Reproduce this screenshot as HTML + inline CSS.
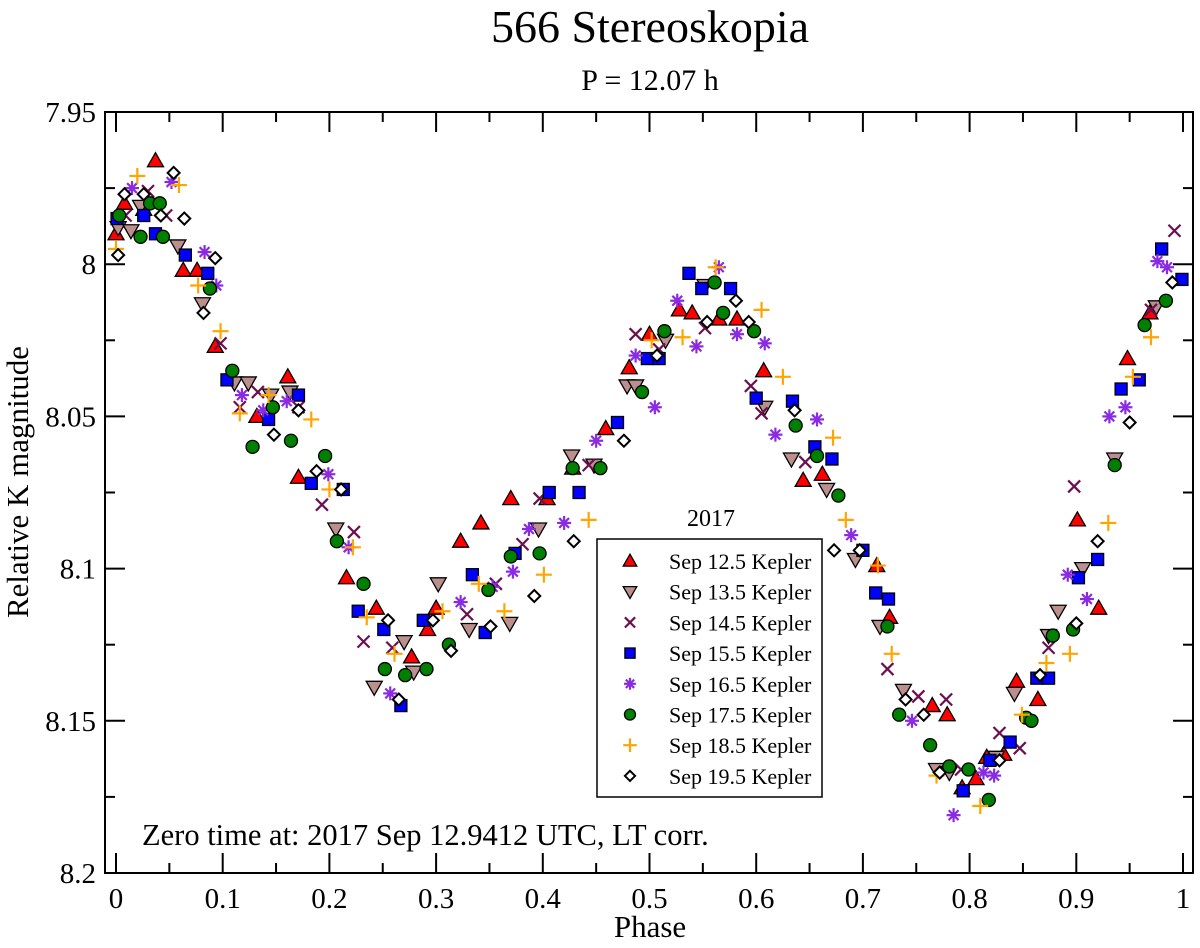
<!DOCTYPE html>
<html><head><meta charset="utf-8"><style>
body{margin:0;background:#fff}
svg text{font-family:"Liberation Serif",serif;fill:#000}
</style></head><body>
<svg id="chart" width="1200" height="943" xmlns="http://www.w3.org/2000/svg">
<text x="650" y="42" font-size="46" text-anchor="middle">566 Stereoskopia</text>
<text x="650" y="90" font-size="30" text-anchor="middle">P = 12.07 h</text>
<text transform="translate(28,482) rotate(-90)" font-size="31" text-anchor="middle">Relative K magnitude</text>
<text x="650" y="937" font-size="31" text-anchor="middle">Phase</text>
<text x="142" y="845" font-size="30.5">Zero time at: 2017 Sep 12.9412 UTC, LT corr.</text>
<g id="axes"></g>
<g id="marks"></g>
<g id="legend"></g>
</svg>
<script>
const xTicks=[0,0.1,0.2,0.3,0.4,0.5,0.6,0.7,0.8,0.9,1];
const xTickLabels=["0","0.1","0.2","0.3","0.4","0.5","0.6","0.7","0.8","0.9","1"];
const yTicks=[7.95,8.0,8.05,8.1,8.15,8.2];
const yTickLabels=["7.95","8","8.05","8.1","8.15","8.2"];
const seriesNames=["Sep 12.5 Kepler","Sep 13.5 Kepler","Sep 14.5 Kepler","Sep 15.5 Kepler","Sep 16.5 Kepler","Sep 17.5 Kepler","Sep 18.5 Kepler","Sep 19.5 Kepler"];
const s1Phase=[0.0,0.008,0.037,0.026,0.063,0.076,0.093,0.132,0.161,0.171,0.216,0.244,0.277,0.292,0.300,0.323,0.342,0.370,0.404,0.428,0.459,0.481,0.500,0.528,0.540,0.565,0.582,0.607,0.644,0.662,0.713,0.725,0.765,0.779,0.793,0.806,0.816,0.832,0.844,0.864,0.901,0.921,0.948,0.969];
const s1Mag=[7.990,7.980,7.966,7.982,8.002,8.002,8.027,8.050,8.037,8.070,8.103,8.113,8.129,8.120,8.113,8.091,8.085,8.077,8.077,8.067,8.054,8.034,8.023,8.015,8.016,8.018,8.018,8.035,8.071,8.069,8.099,8.116,8.145,8.148,8.172,8.169,8.162,8.161,8.137,8.143,8.084,8.113,8.031,8.016];
const s2Phase=[0.002,0.014,0.023,0.058,0.081,0.111,0.124,0.145,0.163,0.206,0.242,0.270,0.279,0.302,0.331,0.369,0.396,0.427,0.448,0.479,0.487,0.515,0.552,0.608,0.633,0.666,0.693,0.716,0.738,0.769,0.781,0.825,0.842,0.874,0.883,0.906,0.936,0.975];
const s2Mag=[7.988,7.989,7.981,7.994,8.013,8.039,8.039,8.043,8.042,8.087,8.139,8.124,8.134,8.105,8.120,8.118,8.087,8.063,8.066,8.040,8.040,8.025,8.007,8.047,8.064,8.074,8.097,8.119,8.140,8.166,8.167,8.162,8.141,8.122,8.114,8.100,8.064,8.014];
const s3Phase=[0.009,0.030,0.047,0.098,0.116,0.133,0.171,0.193,0.223,0.232,0.259,0.329,0.356,0.381,0.397,0.443,0.487,0.509,0.552,0.595,0.605,0.646,0.723,0.752,0.778,0.792,0.828,0.847,0.874,0.898,0.970,0.992];
const s3Mag=[7.984,7.976,7.984,8.026,8.047,8.042,8.047,8.079,8.088,8.124,8.126,8.115,8.105,8.092,8.077,8.066,8.023,8.028,8.021,8.040,8.049,8.065,8.133,8.142,8.143,8.166,8.154,8.159,8.126,8.073,8.015,7.989];
const s4Phase=[0.001,0.026,0.037,0.065,0.086,0.104,0.143,0.171,0.183,0.213,0.227,0.251,0.267,0.288,0.346,0.334,0.374,0.406,0.434,0.470,0.498,0.509,0.537,0.549,0.576,0.600,0.634,0.655,0.671,0.700,0.712,0.724,0.794,0.819,0.838,0.863,0.874,0.902,0.920,0.942,0.959,0.980,0.999];
const s4Mag=[7.985,7.984,7.990,7.997,8.003,8.038,8.051,8.043,8.072,8.074,8.114,8.120,8.145,8.117,8.121,8.102,8.095,8.075,8.075,8.052,8.031,8.031,8.003,8.008,8.008,8.044,8.045,8.060,8.064,8.094,8.108,8.110,8.173,8.163,8.157,8.136,8.136,8.103,8.097,8.041,8.038,7.995,8.005];
const s5Phase=[0.015,0.052,0.083,0.094,0.118,0.138,0.160,0.199,0.218,0.257,0.323,0.353,0.372,0.387,0.420,0.450,0.487,0.505,0.526,0.544,0.565,0.582,0.608,0.618,0.657,0.689,0.746,0.785,0.813,0.823,0.892,0.910,0.931,0.946,0.976,0.985];
const s5Mag=[7.975,7.973,7.996,8.007,8.043,8.048,8.045,8.069,8.093,8.141,8.111,8.106,8.101,8.087,8.085,8.058,8.030,8.047,8.012,8.027,8.001,8.023,8.026,8.056,8.051,8.089,8.150,8.181,8.167,8.168,8.102,8.110,8.050,8.047,7.999,8.001];
const s6Phase=[0.003,0.032,0.041,0.023,0.044,0.088,0.109,0.128,0.147,0.164,0.196,0.207,0.232,0.252,0.271,0.291,0.312,0.349,0.370,0.397,0.428,0.454,0.493,0.514,0.561,0.569,0.598,0.637,0.657,0.677,0.723,0.734,0.763,0.781,0.799,0.818,0.853,0.858,0.878,0.897,0.936,0.964,0.984];
const s6Mag=[7.984,7.980,7.980,7.991,7.991,8.008,8.035,8.060,8.047,8.058,8.063,8.091,8.105,8.133,8.135,8.133,8.125,8.107,8.096,8.095,8.067,8.067,8.042,8.022,8.006,8.016,8.022,8.053,8.063,8.076,8.119,8.148,8.158,8.165,8.166,8.176,8.149,8.150,8.122,8.120,8.066,8.020,8.012];
const s7Phase=[0.0,0.020,0.059,0.077,0.098,0.116,0.143,0.183,0.200,0.222,0.235,0.261,0.306,0.340,0.364,0.401,0.443,0.502,0.531,0.562,0.605,0.625,0.672,0.684,0.714,0.727,0.769,0.810,0.849,0.872,0.894,0.930,0.953,0.970];
const s7Mag=[7.995,7.971,7.974,8.007,8.022,8.049,8.043,8.051,8.074,8.093,8.116,8.128,8.114,8.105,8.114,8.102,8.084,8.025,8.024,8.001,8.015,8.037,8.057,8.084,8.099,8.128,8.168,8.178,8.148,8.131,8.128,8.085,8.037,8.024];
const s8Phase=[0.002,0.008,0.026,0.042,0.054,0.064,0.093,0.082,0.148,0.171,0.188,0.211,0.255,0.265,0.297,0.314,0.351,0.392,0.429,0.476,0.507,0.554,0.581,0.593,0.636,0.673,0.697,0.740,0.757,0.772,0.828,0.866,0.900,0.920,0.950,0.990];
const s8Mag=[7.997,7.977,7.977,7.984,7.970,7.985,7.998,8.016,8.056,8.048,8.068,8.074,8.117,8.143,8.117,8.127,8.119,8.109,8.091,8.058,8.030,8.019,8.012,8.019,8.048,8.094,8.094,8.143,8.148,8.167,8.163,8.135,8.118,8.091,8.052,8.006];

const L=105,R=1193,T=112,B=873;
const x0=116,x1=1183;
function xs(p){return x0+(x1-x0)*p;}
function ys(m){return T+(B-T)*(m-7.95)/0.25;}
const NS="http://www.w3.org/2000/svg";
function mk(tag,attrs,parent){const e=document.createElementNS(NS,tag);for(const k in attrs)e.setAttribute(k,attrs[k]);parent.appendChild(e);return e;}
const axes=document.getElementById('axes');
const frame=mk('rect',{x:L,y:T,width:R-L,height:B-T,fill:'none',stroke:'#000','stroke-width':2},axes);


xTicks.forEach((v,i)=>{
  const x=xs(v);
  const t1=mk('line',{x1:x,x2:x,y1:B,y2:B-20,stroke:'#000','stroke-width':2},axes);
  
  
  const t2=mk('line',{x1:x,x2:x,y1:T,y2:T+20,stroke:'#000','stroke-width':2},axes);
  
  
  if(i<xTicks.length-1){const xm=xs(v+0.05);
    const m1=mk('line',{x1:xm,x2:xm,y1:B,y2:B-10,stroke:'#000','stroke-width':2},axes);
    
    
    const m2=mk('line',{x1:xm,x2:xm,y1:T,y2:T+10,stroke:'#000','stroke-width':2},axes);
    
    }
  const tx=mk('text',{x:x,y:908,'font-size':29,'text-anchor':'middle'},axes);tx.textContent=xTickLabels[i];
  
  
});
yTicks.forEach((v,i)=>{
  const y=ys(v);
  const t1=mk('line',{x1:L,x2:L+20,y1:y,y2:y,stroke:'#000','stroke-width':2},axes);
  
  
  const t2=mk('line',{x1:R,x2:R-20,y1:y,y2:y,stroke:'#000','stroke-width':2},axes);
  
  
  if(i<yTicks.length-1){const ym=ys(v+0.025);
    const m1=mk('line',{x1:L,x2:L+10,y1:ym,y2:ym,stroke:'#000','stroke-width':2},axes);
    
    
    const m2=mk('line',{x1:R,x2:R-10,y1:ym,y2:ym,stroke:'#000','stroke-width':2},axes);
    
    }
  const tx=mk('text',{x:96,y:y+10,'font-size':29,'text-anchor':'end'},axes);tx.textContent=yTickLabels[i];
  
  
});
function marker(type,cx,cy,parent,s){
  s=s||1;
  if(type===0){return mk('polygon',{points:`${cx},${cy-8*s} ${cx+8*s},${cy+6*s} ${cx-8*s},${cy+6*s}`,fill:'#f00',stroke:'#000','stroke-width':1.3},parent);}
  if(type===1){return mk('polygon',{points:`${cx},${cy+8*s} ${cx+8*s},${cy-6*s} ${cx-8*s},${cy-6*s}`,fill:'#bc8f8f',stroke:'#000','stroke-width':1.3},parent);}
  if(type===2){const g=mk('g',{},parent);const d=6*s;
    mk('line',{x1:cx-d,y1:cy-d,x2:cx+d,y2:cy+d,stroke:'#6b0f4f','stroke-width':2.2},g);
    mk('line',{x1:cx-d,y1:cy+d,x2:cx+d,y2:cy-d,stroke:'#6b0f4f','stroke-width':2.2},g);return g;}
  if(type===3){return mk('rect',{x:cx-6*s,y:cy-6*s,width:12*s,height:12*s,fill:'#00f',stroke:'#000','stroke-width':1.3},parent);}
  if(type===4){const g=mk('g',{},parent);const d=7*s;
    mk('line',{x1:cx-d,y1:cy,x2:cx+d,y2:cy,stroke:'#8a2be2','stroke-width':2.2},g);
    mk('line',{x1:cx,y1:cy-d,x2:cx,y2:cy+d,stroke:'#8a2be2','stroke-width':2.2},g);
    mk('line',{x1:cx-d*0.7,y1:cy-d*0.7,x2:cx+d*0.7,y2:cy+d*0.7,stroke:'#8a2be2','stroke-width':2.2},g);
    mk('line',{x1:cx-d*0.7,y1:cy+d*0.7,x2:cx+d*0.7,y2:cy-d*0.7,stroke:'#8a2be2','stroke-width':2.2},g);return g;}
  if(type===5){return mk('circle',{cx:cx,cy:cy,r:6.5*s,fill:'#008000',stroke:'#000','stroke-width':1.3},parent);}
  if(type===6){const g=mk('g',{},parent);const d=8*s;
    mk('line',{x1:cx-d,y1:cy,x2:cx+d,y2:cy,stroke:'#ffa500','stroke-width':2.2},g);
    mk('line',{x1:cx,y1:cy-d,x2:cx,y2:cy+d,stroke:'#ffa500','stroke-width':2.2},g);return g;}
  return mk('polygon',{points:`${cx},${cy-6*s} ${cx+6*s},${cy} ${cx},${cy+6*s} ${cx-6*s},${cy}`,fill:'#fff',stroke:'#000','stroke-width':2},parent);
}
const phases=[s1Phase,s2Phase,s3Phase,s4Phase,s5Phase,s6Phase,s7Phase,s8Phase];
const mags=[s1Mag,s2Mag,s3Mag,s4Mag,s5Mag,s6Mag,s7Mag,s8Mag];
const marks=document.getElementById('marks');
phases.forEach((ph,si)=>{
  const g=mk('g',{},marks);
  
  
  ph.forEach((p,j)=>{
    const m=marker(si,xs(p),ys(mags[si][j]),g);
    
    
  });
});
const lg=document.getElementById('legend');


const lt=mk('text',{x:711,y:526,'font-size':24,'text-anchor':'middle'},lg);lt.textContent='2017';


const lb=mk('rect',{x:597,y:539,width:225,height:258,fill:'#fff',stroke:'#000','stroke-width':1.5},lg);


seriesNames.forEach((n,i)=>{
  const y=561+i*30.7;
  const e=mk('g',{},lg);
  
  
  marker(i,630,y,e,0.85);
  const t=mk('text',{x:669,y:y+8,'font-size':22},e);t.textContent=n;
});
</script>
</body></html>
